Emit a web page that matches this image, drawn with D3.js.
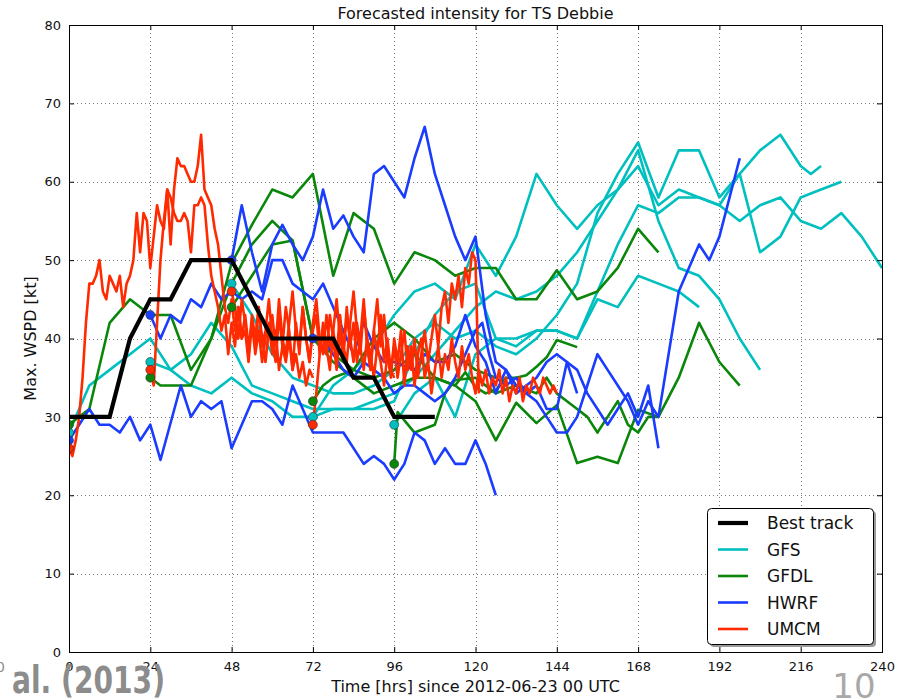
<!DOCTYPE html>
<html>
<head>
<meta charset="utf-8">
<script src="https://cdn.jsdelivr.net/npm/d3@7"></script>
<style>
  html, body { margin: 0; padding: 0; background: #fff; }
  svg { display: block; }
  text { font-family: "DejaVu Sans", sans-serif; }
</style>
</head>
<body>
<svg id="chart" width="904" height="699"></svg>
<script>
// ---- Axis ticks ----
const xTicks = [0, 24, 48, 72, 96, 120, 144, 168, 192, 216, 240];
const yTicks = [0, 10, 20, 30, 40, 50, 60, 70, 80];

// ---- Best track (6-hourly) ----
const bestHours = [0, 6, 12, 18, 24, 30, 36, 42, 48, 54, 60, 66, 72, 78, 84, 90, 96, 102, 108];
const bestTrack = [30, 30, 30, 40, 45, 45, 50, 50, 50, 45, 40, 40, 40, 40, 35, 35, 30, 30, 30];

// ---- GFS forecasts [hour, kt] ----
const gfs00 = [[0,28],[6,34],[12,36],[18,38],[24,40],[30,36],[36,38],[42,42],[48,39],[54,34],[60,33],[66,32],[72,31],[78,31],[84,31],[90,32],[96,33],[102,35],[108,38],[114,41],[120,44],[126,46],[132,45],[138,46],[144,48],[150,51],[156,55],[162,59],[168,64],[174,55],[180,49],[186,48],[192,45],[198,40],[204,36]];
const gfs24 = [[24,37],[30,36],[36,34],[42,33],[48,35],[54,33],[60,32],[66,30],[72,30],[78,31],[84,31],[90,31],[96,32],[102,38],[108,43],[114,46],[120,47],[126,40],[132,39],[138,41],[144,41],[150,40],[156,46],[162,52],[168,57],[174,56],[180,58],[186,58],[192,57],[198,55],[204,57],[210,58],[216,55],[222,54],[228,56],[234,53],[240,49]];
const gfs48 = [[48,47],[54,43],[60,38],[66,35],[72,34],[78,33],[84,33],[90,34],[96,36],[102,40],[108,42],[114,40],[120,41],[126,39],[132,38],[138,40],[144,43],[150,47],[156,56],[162,61],[168,65],[174,58],[180,64],[186,64],[192,58],[198,61],[204,51],[210,53],[216,58],[222,59],[228,60]];
const gfs72 = [[72,30],[78,34],[84,36],[90,39],[96,43],[102,46],[108,47],[114,45],[120,52],[126,48],[132,53],[138,61],[144,57],[150,54],[156,57],[162,59],[168,62],[174,57],[180,59],[186,58],[192,57],[198,61],[204,64],[210,66],[216,62],[219,61],[222,62]];
const gfs96 = [[96,29],[102,33],[108,35],[114,30],[120,38],[126,40],[132,40],[138,41],[144,41],[150,40],[156,45],[162,44],[168,48],[174,47],[180,46],[186,44]];

// ---- GFDL forecasts [hour, kt] ----
const gfdl00 = [[0,29],[6,31],[12,42],[18,45],[24,43],[30,43],[36,36],[42,40],[48,47],[54,52],[60,55],[66,52.5],[72,40],[78,38],[84,36],[90,40],[96,42],[102,40],[108,37],[114,38],[120,36],[126,35]];
const gfdl24 = [[24,35],[27,34],[36,34],[42,40],[48,49.6],[54,54.5],[60,59],[66,58],[72,61],[78,48],[84,56],[90,54],[96,47],[102,51],[108,50],[114,48],[120,49],[126,49],[132,45],[138,45],[144,48.7],[150,45],[156,46],[162,49],[168,54],[174,51]];
const gfdl48 = [[48,44],[54,48],[60,52],[66,52.5],[72,40],[78,37],[84,35],[90,33],[96,34],[102,35],[108,35],[114,34],[117,35.7],[120,33.8],[123,33],[126,33.4],[129,35],[132,35],[135,35.3],[138,36.4],[141,37.6],[144,39.8],[150,38.9]];
const gfdl72 = [[72,32],[75,34],[78,35],[84,36],[90,35],[96,36],[102,38],[108,35],[114,34],[120,32],[126,27],[132,31.8],[138,29.2],[144,31.5],[150,24.1],[156,24.9],[162,24.1],[168,30.9],[174,30],[180,35],[186,42],[192,37],[198,34]];
const gfdl96 = [[96,24],[97,30.6],[102,28],[108,29],[111,33],[114,34.7],[120,35],[126,33],[132,34],[138,33],[141,35],[144,33],[147,32],[150,31],[153,30],[156,28],[159,30],[162,32],[165,29],[168,28],[171,30],[174,30]];

// ---- HWRF forecasts [hour, kt] ----
const hwrf00 = [[0,27],[3,29],[6,31],[9,29],[12,29],[15,28],[18,30],[21,27],[24,29],[27,24.5],[33,34],[36,30],[39,32],[42,31],[45,32],[48,26],[54,32],[57,32],[60,31],[63,29],[66,34],[69,31],[72,28],[81,28],[87,24],[90,25],[93,24],[96,22],[99,24],[102,28],[105,27],[108,24],[111,26],[114,24],[117,24],[120,27],[123,24],[126,20]];
const hwrf24 = [[24,43],[27,40],[30,43],[33,42],[36,45],[39,44],[42,47],[45,45],[48,46],[51,45],[54,46],[57,45],[60,50],[63,50],[66,47],[69,46],[72,45],[75,47],[78,44],[81,41],[84,38],[87,42],[90,39],[93,37],[96,37],[102,36],[105,38],[108,37],[111,37],[114,39],[117,43],[120,39],[123,37],[126,33],[129,36],[132,34],[135,33],[138,34],[141,31],[144,31],[147,37],[150,33]];
const hwrf48 = [[48,50],[51,57],[54,51],[57,46],[60,52],[63,54.5],[66,52],[69,50],[72,53],[75,59],[78,54],[81,55.7],[84,53],[87,51],[90,61],[93,62],[96,60],[99,58],[102,63],[105,67],[108,61],[111,57],[114,53],[117,50],[120,53],[123,43],[126,37],[129,36],[132,33],[135,34],[138,35],[141,37],[144,38],[147,37],[150,36],[153,33],[156,31],[159,29],[162,31],[165,33],[168,30],[171,34],[174,26]];
const hwrf72 = [[72,40],[75,40],[78,38],[81,36],[84,35],[87,37],[90,36],[93,35],[96,33],[99,34],[102,34],[105,33],[108,32],[111,33],[114,35],[117,38],[120,41],[122,42],[124,38],[126,35],[129,34],[132,35],[135,33],[138,32],[141,30],[144,28],[147,28],[150,30],[153,34],[156,38],[159,36],[162,34],[165,32],[168,29],[171,32],[174,30],[180,46],[186,52],[189,50],[192,53],[198,63]];

// ---- UMCM forecasts (hourly values from each start hour) ----
const umcmStarts = [0, 24, 48, 72];
const umcm00 = [26,25,27,30,35,42,47,47,48,50,46,45,48,47,46,48,44,47,48,50,56,51,56,55,49,53,57,55,54,59,52,59,63,62,62,61,60,60,62,66,59,58,57,54,52,48,44,42,45,41,44,40,43,39,42,38,41,37,40,42,38,41,36,39,37,40,36,38,35,37,34,36,35];
const umcm24 = [36,34,42,50,55,59,58,56,55,55,56,55,51,57,57,58,57,52,48,46,44,41,43,38,42,39,44,40,41,37,42,39,44,40,37,41,43,39,45,40,38,42,46,41,39,44,40,37,42,45,40,38,43,39,41,45,40,38,43,40,37,42,39,36,40,38,35,39,37,34,38,36,35];
const umcm48 = [46,44,40,45,42,38,43,40,44,39,41,45,40,37,43,39,44,41,36,42,38,44,40,37,41,43,38,42,39,36,41,38,43,39,37,42,46,41,38,44,40,36,41,45,39,43,38,35,40,37,41,34,39,36,40,35,38,41,37,40,43,39,44,46,42,47,45,48,44,49,47,51,50,33];
const umcm72 = [29,33,38,41,38,43,40,36,41,38,44,39,42,37,40,45,39,36,41,38,43,37,40,36,39,35,38,41,36,39,34,38,40,35,37,33,36,39,35,38,36,40,37,35,39,36,38,35,33,36,34,36,33,35,34,36,33,35,32,34,33,35,32,34,33,35,34,33,35,34,33,34,33];

// ---- Model styling ----
const models = [
  { name: "GFS",  color: "#00bfbf", runs: [gfs00, gfs24, gfs48, gfs72, gfs96] },
  { name: "GFDL", color: "#0a870a", runs: [gfdl00, gfdl24, gfdl48, gfdl72, gfdl96] },
  { name: "HWRF", color: "#1a3cff", runs: [hwrf00, hwrf24, hwrf48, hwrf72] },
  { name: "UMCM", color: "#ff2a00",
    runs: [umcm00, umcm24, umcm48, umcm72].map((vals, k) => vals.map((v, i) => [umcmStarts[k] + i, v])) }
];

const W = 904, H = 699;
const plotLeft = 69, plotRight = 882, plotTop = 25, plotBottom = 652;

const svg = d3.select("#chart");
svg.append("rect").attr("width", W).attr("height", H).attr("fill", "#fff");

const x = d3.scaleLinear().domain([0, 240]).range([plotLeft, plotRight]);
const y = d3.scaleLinear().domain([0, 80]).range([plotBottom, plotTop]);

svg.append("defs").append("clipPath").attr("id", "plotClip")
  .append("rect").attr("x", plotLeft).attr("y", plotTop)
  .attr("width", plotRight - plotLeft).attr("height", plotBottom - plotTop);

// Dotted grid
const grid = svg.append("g").attr("stroke", "#7a7a7a").attr("stroke-width", 1).attr("stroke-dasharray", "1,3");
grid.selectAll(".gx").data(xTicks.slice(1, -1)).join("line")
  .attr("x1", d => Math.round(x(d)) + 0.5).attr("x2", d => Math.round(x(d)) + 0.5)
  .attr("y1", plotTop).attr("y2", plotBottom);
grid.selectAll(".gy").data(yTicks.slice(1, -1)).join("line")
  .attr("y1", d => Math.round(y(d)) + 0.5).attr("y2", d => Math.round(y(d)) + 0.5)
  .attr("x1", plotLeft).attr("x2", plotRight);

// Forecast lines
const plot = svg.append("g").attr("clip-path", "url(#plotClip)");
const line = d3.line().x(d => x(d[0])).y(d => y(d[1]));

models.forEach(m => {
  m.runs.forEach(run => {
    plot.append("path").datum(run)
      .attr("d", line)
      .attr("fill", "none")
      .attr("stroke", m.color)
      .attr("stroke-width", 2.6)
      .attr("stroke-linejoin", "round")
      .attr("stroke-linecap", "butt");
  });
});

// Start-point markers of each forecast run
models.forEach(m => {
  m.runs.forEach(run => {
    plot.append("circle")
      .attr("cx", x(run[0][0])).attr("cy", y(run[0][1])).attr("r", 4.5)
      .attr("fill", m.color).attr("stroke", "#333").attr("stroke-width", 0.6);
  });
});

// Best track
plot.append("path").datum(bestHours.map((h, i) => [h, bestTrack[i]]))
  .attr("d", line).attr("fill", "none").attr("stroke", "#000")
  .attr("stroke-width", 4.2).attr("stroke-linejoin", "miter");

// Axes with inward ticks
const axB = d3.axisBottom(x).tickValues(xTicks).tickSizeInner(-5).tickSizeOuter(0).tickPadding(10);
const axT = d3.axisTop(x).tickValues(xTicks).tickSizeInner(-5).tickSizeOuter(0).tickFormat("");
const axL = d3.axisLeft(y).tickValues(yTicks).tickSizeInner(-5).tickSizeOuter(0).tickPadding(8);
const axR = d3.axisRight(y).tickValues(yTicks).tickSizeInner(-5).tickSizeOuter(0).tickFormat("");

function styleAxis(g) {
  g.select(".domain").remove();
  g.selectAll("line").attr("stroke", "#000");
  g.selectAll("text").attr("font-family", "DejaVu Sans").attr("font-size", 13).attr("fill", "#111");
}
svg.append("g").attr("transform", `translate(0,${plotBottom})`).call(axB).call(styleAxis);
svg.append("g").attr("transform", `translate(0,${plotTop})`).call(axT).call(styleAxis);
svg.append("g").attr("transform", `translate(${plotLeft},0)`).call(axL).call(styleAxis);
svg.append("g").attr("transform", `translate(${plotRight},0)`).call(axR).call(styleAxis);

// Frame
svg.append("rect").attr("x", plotLeft + 0.5).attr("y", plotTop + 0.5)
  .attr("width", plotRight - plotLeft).attr("height", plotBottom - plotTop)
  .attr("fill", "none").attr("stroke", "#000").attr("stroke-width", 1);

// Titles
svg.append("text").attr("x", (plotLeft + plotRight) / 2).attr("y", 19)
  .attr("text-anchor", "middle").attr("font-size", 16).attr("fill", "#111")
  .text("Forecasted intensity for TS Debbie");
svg.append("text").attr("x", (plotLeft + plotRight) / 2).attr("y", 692)
  .attr("text-anchor", "middle").attr("font-size", 16).attr("fill", "#111")
  .text("Time [hrs] since 2012-06-23 00 UTC");
svg.append("text").attr("transform", `translate(36,${(plotTop + plotBottom) / 2}) rotate(-90)`)
  .attr("text-anchor", "middle").attr("font-size", 16).attr("fill", "#111")
  .text("Max. WSPD [kt]");

// Legend
const lg = svg.append("g").attr("transform", "translate(707,508)");
lg.append("rect").attr("x", 3).attr("y", 3).attr("width", 166).attr("height", 136).attr("rx", 4)
  .attr("fill", "#9a9a9a");
lg.append("rect").attr("x", 0.5).attr("y", 0.5).attr("width", 166).attr("height", 136).attr("rx", 4)
  .attr("fill", "#fff").attr("stroke", "#000").attr("stroke-width", 1);
const legendItems = [{ name: "Best track", color: "#000", w: 4.2 }]
  .concat(models.map(m => ({ name: m.name, color: m.color, w: 2.6 })));
legendItems.forEach((d, i) => {
  const ly = 15 + i * 26.5;
  lg.append("line").attr("x1", 11).attr("x2", 41).attr("y1", ly).attr("y2", ly)
    .attr("stroke", d.color).attr("stroke-width", d.w);
  lg.append("text").attr("x", 60).attr("y", ly + 6).attr("font-size", 17).attr("fill", "#111")
    .text(d.name);
});

// Slide overlay text
svg.append("text").attr("x", 12).attr("y", 693)
  .attr("font-family", "Liberation Sans, Arial, sans-serif").attr("font-weight", "bold")
  .attr("font-size", 37).attr("textLength", 153).attr("lengthAdjust", "spacingAndGlyphs")
  .attr("fill", "#8c8c8c").text("al. (2013)");
svg.append("text").attr("x", -4).attr("y", 672)
  .attr("font-family", "Liberation Sans, Arial, sans-serif")
  .attr("font-size", 14).attr("fill", "#8c8c8c").text("0");
svg.append("text").attr("x", 854).attr("y", 698)
  .attr("text-anchor", "middle")
  .attr("font-family", "Liberation Sans, Arial, sans-serif")
  .attr("font-size", 34).attr("fill", "#a8a8a8").text("10");
</script>
</body>
</html>
